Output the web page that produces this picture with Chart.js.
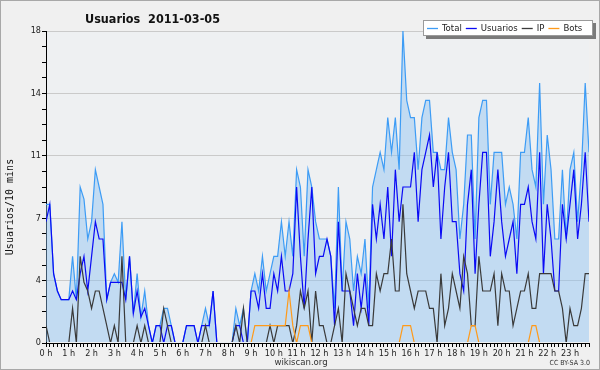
<!DOCTYPE html>
<html><head><meta charset="utf-8">
<script src="https://cdn.jsdelivr.net/npm/chart.js@4.4.1/dist/chart.umd.min.js"></script>
<style>html,body{margin:0;padding:0;background:#efefef;}canvas{display:block;}</style>
</head><body>
<canvas id="c" width="600" height="370"></canvas>
<script>
// ---- data (values per 10-minute slot, 144 slots) ----
const hourLabels = ['0 h','1 h','2 h','3 h','4 h','5 h','6 h','7 h','8 h','9 h','10 h','11 h',
  '12 h','13 h','14 h','15 h','16 h','17 h','18 h','19 h','20 h','21 h','22 h','23 h'];
const yTickLabels = ['0','4','7','11','14','18'];
const seriesNames = ['Total','Usuarios','IP','Bots'];

const total = [8,8,4,3,2.5,2.5,2.5,5,2.5,9,8.3,6,7,10,9,8,2.5,3.5,4,3.5,7,2.5,5,1.7,4,1.5,3,1,
  0,1,1,2,2,1,0,0,0,1,1,1,0,1,2,1,3,0,0,0,0,0,2,1,2,0,
  3,4,3,5,3,4,5,5,7,5,7,5,10,9,5,10,9,7,6,6,6,5,2,9,3,7,6,3,5,4,6,2,9,10,11,10,
  13,11,13,10,18,14,13,13,10,13,14,14,11,11,10,10,13,11,10,6,8,12,12,6,13,14,14,8,
  11,11,11,8,9,8,6,11,11,13,10,9,15,8,12,10,6,6,10,6,10,11,7,10,15,11];
const usuarios = [7,8,4,3,2.5,2.5,2.5,3,2.5,4,5,3,5,7,6,6,2.5,3.5,3.5,3.5,3.5,2.5,5,1.7,3,1.5,2,1,
  0,1,1,0,1,1,0,0,0,1,1,1,0,1,1,1,3,0,0,0,0,0,1,1,0,0,
  3,3,2,4,2,2,4,3,5,3,3,4,9,5,2,6,9,4,5,5,6,5,1,7,3,3,3,1,4,2,4,1,8,6,8,6,
  9,5,10,7,9,9,9,11,7,10,11,12,9,11,6,9,11,7,7,4,3,8,10,4,8,11,11,5,
  7,10,7,5,6,7,4,8,8,9,7,6,11,4,8,6,3,3,8,6,8,10,6,8,11,7];
const ip = [1,0,0,0,0,0,0,2,0,5,3.5,3,2,3,3,2,1,0,1,0,5,0,0,0,1,0,1,0,
  0,0,0,2,1,0,0,0,0,0,0,0,0,0,1,0,0,0,0,0,0,0,1,0,2,0,
  0,0,0,0,0,1,0,1,1,1,1,0,1,3,2,3,0,3,1,1,0,0,1,2,0,4,3,2,1,2,2,1,1,4,3,4,
  4,6,3,3,8,4,3,2,3,3,3,2,2,0,4,1,2,4,3,2,5,4,1,1,5,3,3,3,
  4,1,4,3,3,1,2,3,3,4,2,2,4,4,4,4,3,3,2,0,2,1,1,2,4,4];
const bots = [0,0,0,0,0,0,0,0,0,0,0,0,0,0,0,0,0,0,0,0,0,0,0,0,0,0,0,0,
  0,0,0,0,0,0,0,0,0,0,0,0,0,0,0,0,0,0,0,0,0,0,0,0,0,0,
  0,1,1,1,1,1,1,1,1,1,3,1,0,1,1,1,0,0,0,0,0,0,0,0,0,0,0,0,0,0,0,0,0,0,0,0,
  0,0,0,0,1,1,1,0,0,0,0,0,0,0,0,0,0,0,0,0,0,0,1,1,0,0,0,0,
  0,0,0,0,0,0,0,0,0,0,1,1,0,0,0,0,0,0,0,0,0,0,0,0,0,0];

const slots = total.map((_, i) => i);
const Y_MAX = 18, Y_MINOR = 0.9, Y_MAJOR_EVERY = 4;

const colors = {
  total: '#3d9cf5', totalFill: 'rgba(140,193,242,0.45)',
  usuarios: '#0a0af5', ip: '#3a3a3a', bots: '#ff9a1a'
};

const decor = {
  id: 'decor',
  beforeDraw(chart) {
    const {ctx, chartArea: a} = chart;
    ctx.save();
    ctx.fillStyle = '#f0f0f0';
    ctx.fillRect(0, 0, 600, 370);
    ctx.strokeStyle = '#a8a8a8';
    ctx.lineWidth = 1;
    ctx.strokeRect(0.5, 0.5, 599, 369);
    ctx.fillStyle = '#eef0f2';
    ctx.fillRect(a.left, a.top, a.right - a.left, a.bottom - a.top);
    ctx.restore();
  },
  afterDraw(chart) {
    const ctx = chart.ctx;
    ctx.save();
    // title
    ctx.fillStyle = '#111';
    ctx.font = "bold 12.5px 'DejaVu Sans Condensed'";
    ctx.textBaseline = 'alphabetic';
    ctx.textAlign = 'left';
    ctx.fillText('Usuarios  2011-03-05', 85, 23);
    // y axis title
    ctx.save();
    ctx.translate(10, 207);
    ctx.rotate(-Math.PI / 2);
    ctx.font = "10px 'DejaVu Sans Mono'";
    ctx.textAlign = 'center';
    ctx.textBaseline = 'middle';
    ctx.fillText('Usuarios/10 mins', 0, 0);
    ctx.restore();
    // footer
    ctx.fillStyle = '#333';
    ctx.font = "9.5px 'DejaVu Sans Condensed'";
    ctx.textAlign = 'center';
    ctx.fillText('wikiscan.org', 301, 365);
    ctx.font = "7px 'DejaVu Sans Condensed'";
    ctx.textAlign = 'right';
    ctx.fillText('CC BY-SA 3.0', 590, 365);
    // legend
    const bx = 423, by = 20, bw = 170, bh = 16;
    ctx.fillStyle = '#7a7a7a';
    ctx.fillRect(bx + 3, by + 3, bw, bh);
    ctx.fillStyle = '#ffffff';
    ctx.fillRect(bx, by, bw, bh);
    ctx.strokeStyle = '#9a9a9a';
    ctx.lineWidth = 1;
    ctx.strokeRect(bx + 0.5, by + 0.5, bw - 1, bh - 1);
    ctx.font = "9.5px 'DejaVu Sans Condensed'";
    ctx.textAlign = 'left';
    ctx.textBaseline = 'middle';
    let x = bx + 4;
    chart.data.datasets.forEach(ds => {
      ctx.strokeStyle = ds.borderColor;
      ctx.lineWidth = 1.3;
      ctx.beginPath();
      ctx.moveTo(x, by + bh / 2 + 0.5);
      ctx.lineTo(x + 11, by + bh / 2 + 0.5);
      ctx.stroke();
      ctx.fillStyle = '#222';
      ctx.fillText(ds.label, x + 15, by + bh / 2 + 1);
      x += 15 + ctx.measureText(ds.label).width + 4;
    });
    ctx.restore();
  }
};

const mkSet = (label, data, color, order, extra) => Object.assign({
  label, data, borderColor: color, backgroundColor: color,
  borderWidth: 1.2, pointRadius: 0, tension: 0, fill: false, order,
  clip: {left: 0, top: 2, right: 0, bottom: -1}
}, extra || {});

new Chart(document.getElementById('c'), {
  type: 'line',
  data: {
    labels: slots,
    datasets: [
      mkSet(seriesNames[0], total, colors.total, 4, {fill: 'origin', backgroundColor: colors.totalFill}),
      mkSet(seriesNames[1], usuarios, colors.usuarios, 3),
      mkSet(seriesNames[2], ip, colors.ip, 2),
      mkSet(seriesNames[3], bots, colors.bots, 1)
    ]
  },
  options: {
    responsive: false, animation: false, devicePixelRatio: 1,
    layout: {padding: {top: 31, right: 11, left: 0, bottom: 0}},
    plugins: {legend: {display: false}, tooltip: {enabled: false}, title: {display: false}},
    scales: {
      x: {
        type: 'category', offset: false, z: 1,
        grid: {display: true, drawOnChartArea: false, drawTicks: true, tickLength: 4, tickColor: '#000'},
        border: {display: true, color: '#000', width: 1},
        ticks: {
          autoSkip: false, maxRotation: 0, minRotation: 0, padding: 1,
          color: '#222', font: {family: 'DejaVu Sans Condensed', size: 9},
          callback: (v, i) => (i % 6 === 0 ? hourLabels[i / 6] : '')
        },
        afterFit: s => { s.height = 27; }
      },
      y: {
        min: 0, max: Y_MAX,
        afterBuildTicks: s => {
          const t = [];
          for (let k = 0; k * Y_MINOR <= Y_MAX + 1e-9; k++) t.push({value: +(k * Y_MINOR).toFixed(2)});
          s.ticks = t;
        },
        grid: {
          drawTicks: true, tickLength: 4, tickColor: '#000',
          color: c => (c.index % Y_MAJOR_EVERY === 0 ? '#cacaca' : 'rgba(0,0,0,0)')
        },
        border: {display: true, color: '#000', width: 1},
        ticks: {
          autoSkip: false, padding: 1, color: '#222', font: {family: 'DejaVu Sans Condensed', size: 9},
          callback: (v, i) => (i % Y_MAJOR_EVERY === 0 ? yTickLabels[i / Y_MAJOR_EVERY] : '')
        },
        title: {display: false},
        afterFit: s => { s.width = 46; }
      }
    }
  },
  plugins: [decor]
});
</script>
</body></html>
